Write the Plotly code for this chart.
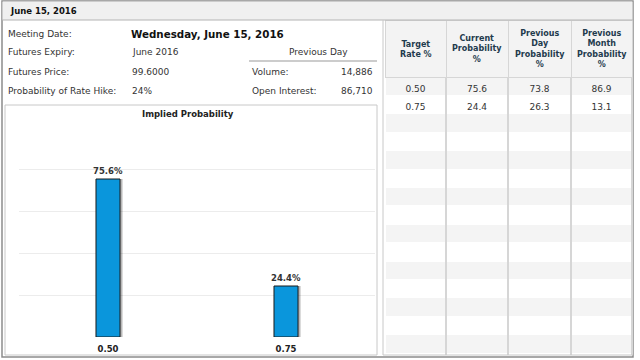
import plotly.graph_objects as go

W, H = 640, 360

# ---- data ----
header_date = "June 15, 2016"
info_labels = ["Meeting Date:", "Futures Expiry:", "Futures Price:", "Probability of Rate Hike:"]
info_values = ["Wednesday, June 15, 2016", "June 2016", "99.6000", "24%"]
prev_day_labels = ["Volume:", "Open Interest:"]
prev_day_values = ["14,886", "86,710"]

target_rates = ["0.50", "0.75"]
current_prob = [75.6, 24.4]
prev_day_prob = [73.8, 26.3]
prev_month_prob = [86.9, 13.1]
table_headers = ["Target<br>Rate %", "Current<br>Probability<br>%",
                 "Previous<br>Day<br>Probability<br>%", "Previous<br>Month<br>Probability<br>%"]
n_rows = 15


def px(x):
    return x / W


def py(y):
    return 1 - y / H


FONT = "DejaVu Sans"
fig = go.Figure()

# shadow bars
bw = 0.135
fig.add_trace(go.Bar(
    x=target_rates, y=current_prob, width=bw, offset=-bw / 2 + 2.5 / 178,
    marker=dict(color="rgba(0,0,0,0.28)", line=dict(width=0)),
    hoverinfo="skip", showlegend=False))
# main bars
fig.add_trace(go.Bar(
    x=target_rates, y=current_prob, width=bw, offset=-bw / 2,
    marker=dict(color="#0a96dc", line=dict(color="#1a1a1a", width=1)),
    text=[f"{v:.1f}%" for v in current_prob], textposition="outside", constraintext="none",
    textfont=dict(family=FONT, size=8.5, color="#333333", weight="bold"),
    cliponaxis=False, showlegend=False))

# table
col_x = [385, 446, 508, 571, 632]
pad = lambda lst: [f"{v:.1f}" if isinstance(v, float) else v for v in lst] + [""] * (n_rows - len(lst))
fills = [("#f4f4f4" if i % 2 == 0 else "#ffffff") for i in range(n_rows)]
fig.add_trace(go.Table(
    domain=dict(x=[px(col_x[0]), px(col_x[-1])], y=[py(355), py(20)]),
    columnwidth=[61, 62, 63, 61],
    header=dict(values=[""] * len(table_headers),
                fill=dict(color="#f3f3f3"), line=dict(color="#d6d6d6", width=1),
                height=57),
    cells=dict(values=[pad(target_rates), pad(current_prob), pad(prev_day_prob), pad(prev_month_prob)],
               fill=dict(color=[fills] * 4), line=dict(color="#ffffff", width=1),
               font=dict(family=FONT, size=9, color="#333333"),
               align="center", height=18.4)))

shapes = []
# outer frame
shapes.append(dict(type="rect", xref="paper", yref="paper", x0=px(2), x1=px(633), y0=py(357), y1=py(1),
                   line=dict(color="#8c8c8c", width=1.5), fillcolor="rgba(0,0,0,0)", layer="below"))
# header bar
shapes.append(dict(type="rect", xref="paper", yref="paper", x0=px(2.5), x1=px(632.5), y0=py(20), y1=py(1.5),
                   line=dict(width=0), fillcolor="#f0f0f0", layer="below"))
shapes.append(dict(type="line", xref="paper", yref="paper", x0=px(2), x1=px(633), y0=py(20), y1=py(20),
                   line=dict(color="#b4b4b4", width=1)))
# previous day underline
shapes.append(dict(type="line", xref="paper", yref="paper", x0=px(249), x1=px(377), y0=py(61), y1=py(61),
                   line=dict(color="#cccccc", width=2)))
# chart box
shapes.append(dict(type="rect", xref="paper", yref="paper", x0=px(5), x1=px(377), y0=py(355), y1=py(105),
                   line=dict(color="#c8c8c8", width=1), fillcolor="rgba(0,0,0,0)"))
# table left border
shapes.append(dict(type="line", xref="paper", yref="paper", x0=px(383), x1=px(383), y0=py(355), y1=py(20),
                   line=dict(color="#c8c8c8", width=1)))
# table column lines
for xc in col_x[1:]:
    shapes.append(dict(type="line", xref="paper", yref="paper", x0=px(xc), x1=px(xc), y0=py(355), y1=py(77),
                       line=dict(color="#d6d6d6", width=2), layer="above"))
shapes.append(dict(type="line", xref="paper", yref="paper", x0=px(383), x1=px(633), y0=py(355), y1=py(355),
                   line=dict(color="#c8c8c8", width=1)))

ann = []
ann.append(dict(text=f"<b>{header_date}</b>", x=px(8), y=py(10.5), xanchor="left", yanchor="middle",
                font=dict(family=FONT, size=8.5, color="#111111")))
rows_y = [34, 52, 72, 91]
for lab, val, yy in zip(info_labels, info_values, rows_y):
    ann.append(dict(text=lab, x=px(6), y=py(yy), xanchor="left", yanchor="middle",
                    font=dict(family=FONT, size=9, color="#333333")))
    if yy == rows_y[0]:
        ann.append(dict(text=f"<b>{val}</b>", x=px(129), y=py(yy), xanchor="left", yanchor="middle",
                        font=dict(family=FONT, size=10.3, color="#111111")))
    else:
        ann.append(dict(text=val, x=px(130), y=py(yy), xanchor="left", yanchor="middle",
                        font=dict(family=FONT, size=9, color="#333333")))
ann.append(dict(text="Previous Day", x=px(318), y=py(52), xanchor="center", yanchor="middle",
                font=dict(family=FONT, size=9, color="#333333")))
for lab, val, yy in zip(prev_day_labels, prev_day_values, rows_y[2:]):
    ann.append(dict(text=lab, x=px(250), y=py(yy), xanchor="left", yanchor="middle",
                    font=dict(family=FONT, size=9, color="#333333")))
    ann.append(dict(text=val, x=px(375), y=py(yy), xanchor="right", yanchor="middle",
                    font=dict(family=FONT, size=9, color="#333333")))
ann.append(dict(text="<b>Implied Probability</b>", x=px(188), y=py(114), xanchor="center", yanchor="middle",
                font=dict(family=FONT, size=8.5, color="#222222")))
# table header labels
for i, h in enumerate(table_headers):
    ann.append(dict(text=f"<b>{h}</b>", x=px((col_x[i] + col_x[i + 1]) / 2), y=py(49.5),
                    xanchor="center", yanchor="middle", align="center",
                    font=dict(family=FONT, size=8, color="#1f3b4d")))
for a in ann:
    a.update(xref="paper", yref="paper", showarrow=False)

fig.update_layout(
    width=W, height=H, margin=dict(l=0, r=0, t=0, b=0),
    paper_bgcolor="#ffffff", plot_bgcolor="#ffffff",
    barmode="overlay", showlegend=False,
    shapes=shapes, annotations=ann,
    xaxis=dict(domain=[px(19), px(375)], type="category", range=[-0.5, 1.5],
               showgrid=False, zeroline=False, showline=False, ticks="", ticklabelstandoff=5,
               tickfont=dict(family=FONT, size=8.5, color="#222222", weight="bold")),
    yaxis=dict(domain=[py(337), py(128)], range=[0, 100], dtick=20,
               showgrid=True, gridcolor="#ececec", gridwidth=1,
               zeroline=False, showticklabels=False, ticks=""),
)

fig.write_html("out.html", config={"displayModeBar": False},
               post_script="document.body.style.margin='0';document.body.style.padding='0';")
